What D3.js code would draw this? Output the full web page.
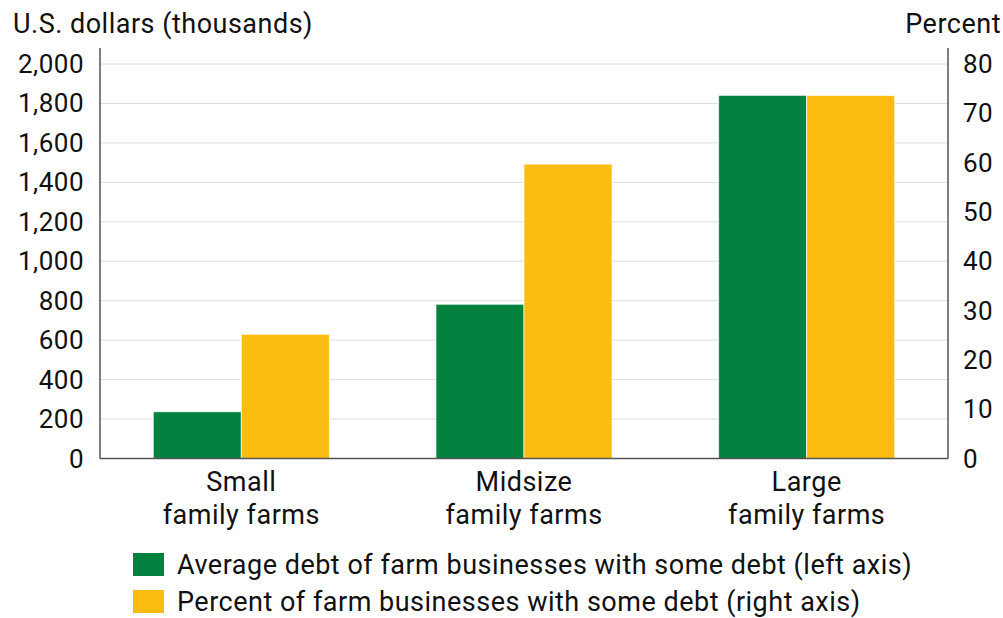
<!DOCTYPE html>
<html>
<head>
<meta charset="utf-8">
<script src="https://cdn.jsdelivr.net/npm/d3@7"></script>
<style>
  body { margin: 0; background: #fff; }
  text { font-family: Roboto, "Noto Sans", sans-serif; fill: #111; letter-spacing: 0.5px; }
</style>
</head>
<body>
<svg id="svg" width="1003" height="618"></svg>
<script>
const categories = [["Small", "family farms"], ["Midsize", "family farms"], ["Large", "family farms"]];
const avgDebt = [237, 782, 1841];
const pctDebt = [25.2, 59.7, 73.6];
const leftTicks = [0, 200, 400, 600, 800, 1000, 1200, 1400, 1600, 1800, 2000];
const rightTicks = [0, 10, 20, 30, 40, 50, 60, 70, 80];
const seriesNames = [
  "Average debt of farm businesses with some debt (left axis)",
  "Percent of farm businesses with some debt (right axis)"
];
const colors = ["#02813f", "#fdbc12"];

const svg = d3.select("#svg");
const plotLeft = 100, plotRight = 948, plotTop = 64, plotBottom = 458.5;

const x0 = d3.scaleBand().domain(d3.range(categories.length)).range([plotLeft, plotRight])
  .paddingInner(0.377).paddingOuter(0.1885);
const x1 = d3.scaleBand().domain([0, 1]).range([0, x0.bandwidth()]);
const yL = d3.scaleLinear().domain([0, 2000]).range([plotBottom, plotTop]);
const yR = d3.scaleLinear().domain([0, 80]).range([plotBottom, plotTop]);

// gridlines
svg.append("g")
  .selectAll("line")
  .data(leftTicks.slice(1))
  .join("line")
  .attr("x1", plotLeft).attr("x2", plotRight)
  .attr("y1", d => yL(d)).attr("y2", d => yL(d))
  .attr("stroke", "#dedede").attr("stroke-width", 1);

// bars
const groups = svg.append("g")
  .selectAll("g")
  .data(categories.map((c, i) => [avgDebt[i], pctDebt[i]]))
  .join("g")
  .attr("transform", (d, i) => `translate(${x0(i)},0)`);

groups.selectAll("rect")
  .data(d => d)
  .join("rect")
  .attr("x", (d, j) => x1(j))
  .attr("width", x1.bandwidth())
  .attr("y", (d, j) => (j === 0 ? yL(d) : yR(d)))
  .attr("height", (d, j) => plotBottom - (j === 0 ? yL(d) : yR(d)))
  .attr("fill", (d, j) => colors[j])
  .attr("stroke", "#fff")
  .attr("stroke-opacity", 0.7)
  .attr("stroke-width", 1);

// axes lines
const axisColor = "#555";
svg.append("line").attr("x1", plotLeft).attr("x2", plotLeft).attr("y1", plotTop - 16).attr("y2", plotBottom)
  .attr("stroke", axisColor).attr("stroke-width", 1.5);
svg.append("line").attr("x1", plotRight).attr("x2", plotRight).attr("y1", plotTop - 16).attr("y2", plotBottom)
  .attr("stroke", axisColor).attr("stroke-width", 1.5);
svg.append("line").attr("x1", plotLeft).attr("x2", plotRight).attr("y1", plotBottom).attr("y2", plotBottom)
  .attr("stroke", axisColor).attr("stroke-width", 1.5);

// tick labels
const fmt = d3.format(",");
svg.append("g")
  .selectAll("text")
  .data(leftTicks)
  .join("text")
  .attr("x", 84)
  .attr("y", d => yL(d) + 9)
  .attr("text-anchor", "end")
  .attr("font-size", 26)
  .text(d => fmt(d));

svg.append("g")
  .selectAll("text")
  .data(rightTicks)
  .join("text")
  .attr("x", 963)
  .attr("y", d => yR(d) + 9)
  .attr("text-anchor", "start")
  .attr("font-size", 26)
  .text(d => d);

// axis titles
svg.append("text").attr("x", 13).attr("y", 33).attr("font-size", 27).text("U.S. dollars (thousands)");
svg.append("text").attr("x", 1001).attr("y", 33).attr("font-size", 27).attr("text-anchor", "end").text("Percent");

// category labels
svg.append("g")
  .selectAll("text")
  .data(categories)
  .join("text")
  .attr("text-anchor", "middle")
  .attr("font-size", 27)
  .attr("x", (d, i) => x0(i) + x0.bandwidth() / 2)
  .attr("y", 491)
  .selectAll("tspan")
  .data(d => d)
  .join("tspan")
  .attr("x", function () { return d3.select(this.parentNode).attr("x"); })
  .attr("dy", (d, k) => (k === 0 ? 0 : 33))
  .text(d => d);

// legend
const legend = svg.append("g")
  .selectAll("g")
  .data(seriesNames)
  .join("g")
  .attr("transform", (d, i) => `translate(133,${553 + i * 37})`);
legend.append("rect").attr("width", 31).attr("height", 23).attr("fill", (d, i) => colors[i]);
legend.append("text").attr("x", 44).attr("y", 21).attr("font-size", 27).text(d => d);
</script>
</body>
</html>
